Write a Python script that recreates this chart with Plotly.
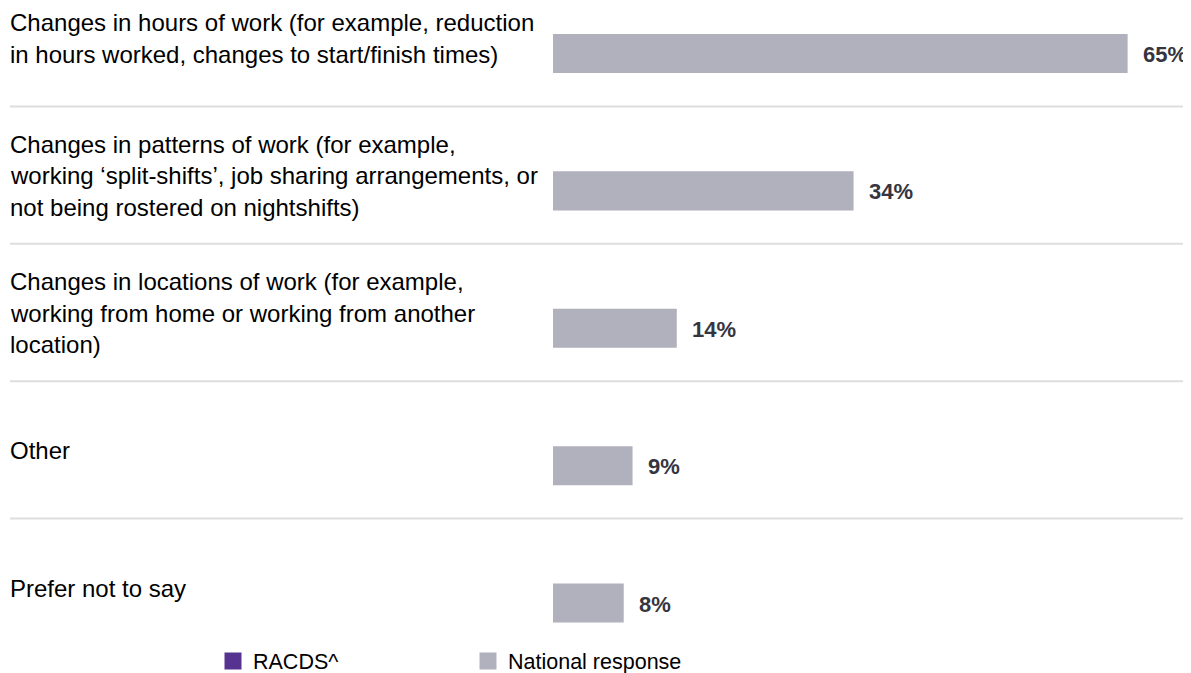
import plotly.graph_objects as go

# Chart data
CATEGORIES = [
    'Changes in hours of work (for example, reduction<br>in hours worked, changes to start/finish times)',
    'Changes in patterns of work (for example,<br>working ‘split-shifts’, job sharing arrangements, or<br>not being rostered on nightshifts)',
    'Changes in locations of work (for example,<br>working from home or working from another<br>location)',
    'Other',
    'Prefer not to say',
]
NATIONAL = [65, 34, 14, 9, 8]
RACDS = [None, None, None, None, None]  # no RACDS values shown in the chart

SERIES_NAMES = ['RACDS^', 'National response']
COLORS = ['#563291', '#B1B0BD']

FONT = 'Liberation Sans, Arial, sans-serif'
# page body has an 8px margin, so the figure is shifted by 8px
W, H = 1183, 665

fig = go.Figure()

# RACDS (empty series, legend only)
fig.add_trace(go.Bar(
    x=RACDS, y=CATEGORIES, orientation='h', name=SERIES_NAMES[0],
    marker=dict(color=COLORS[0], line=dict(color=COLORS[0], width=7)),
))

# National response bars
fig.add_trace(go.Bar(
    x=NATIONAL, y=CATEGORIES, orientation='h', name=SERIES_NAMES[1],
    marker=dict(color=COLORS[1], line=dict(width=0)),
    showlegend=False, hoverinfo='x+y',
))
# legend entry for national response with a bigger swatch
fig.add_trace(go.Bar(
    x=[None] * len(CATEGORIES), y=CATEGORIES, orientation='h', name=SERIES_NAMES[1],
    marker=dict(color=COLORS[1], line=dict(color=COLORS[1], width=7)),
))

# Category labels, left aligned, one annotation per line for wider spacing
LINE_STEP = 31.5
for cat in CATEGORIES:
    lines = cat.split('<br>')
    n = len(lines)
    for k, line in enumerate(lines):
        fig.add_annotation(
            x=0, xref='paper', xanchor='left',
            y=cat, yref='y', yanchor='middle',
            yshift=15 + ((n - 1) / 2 - k) * LINE_STEP,
            text=line, showarrow=False,
            font=dict(family=FONT, size=24, color='#000000'),
        )

# Value labels
for cat, v in zip(CATEGORIES, NATIONAL):
    fig.add_annotation(
        x=v, y=cat, xref='x', yref='y', xanchor='left', yanchor='middle',
        xshift=13, yshift=-1, text='<b>%d%%</b>' % v, showarrow=False,
        font=dict(family=FONT, size=22, color='#35353F'),
    )

# Separator lines between categories
for i in range(len(CATEGORIES) - 1):
    fig.add_shape(
        type='line', xref='paper', yref='y',
        x0=2 / W, x1=1, y0=i + 0.385, y1=i + 0.385,
        line=dict(color='#DEDEDE', width=2),
    )

fig.update_xaxes(domain=[545 / W, 1], range=[0, 72.17], visible=False)
fig.update_yaxes(range=[4.509, -0.331], visible=False,
                 categoryorder='array', categoryarray=CATEGORIES)

fig.update_layout(
    width=W, height=H,
    margin=dict(l=0, r=0, t=0, b=0, autoexpand=False),
    paper_bgcolor='white', plot_bgcolor='white',
    barmode='overlay', bargap=0.716,
    font=dict(family=FONT, color='#000000'),
    showlegend=True,
    legend=dict(
        orientation='h', x=205 / W, xanchor='left', y=1 - 653 / H, yanchor='middle',
        font=dict(family=FONT, size=21.5, color='#000000'),
        entrywidth=210, entrywidthmode='pixels',
        bgcolor='rgba(0,0,0,0)',
    ),
)

fig.write_html('out.html')
